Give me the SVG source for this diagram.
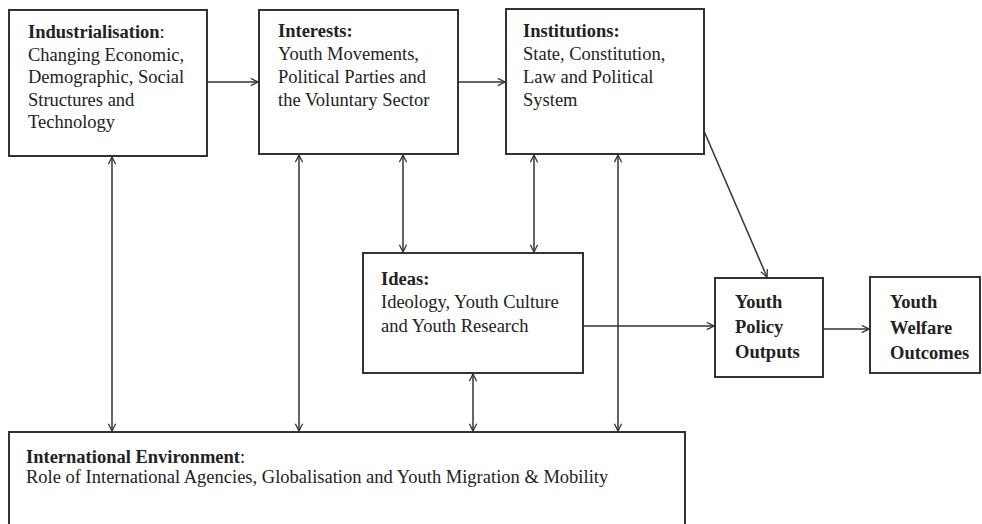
<svg xmlns="http://www.w3.org/2000/svg" width="982" height="524" viewBox="0 0 982 524">
<defs>
<marker id="ah" viewBox="0 0 10 10" refX="9" refY="5" markerWidth="9" markerHeight="9" markerUnits="userSpaceOnUse" orient="auto-start-reverse">
<path d="M1,1 L9,5 L1,9" fill="none" stroke="#333" stroke-width="1.4"/>
</marker>
<style>
.box{fill:#fff;stroke:#333;stroke-width:2}
.t{font-family:"Liberation Serif","Times New Roman",serif;font-size:18.5px;fill:#222}
.b{font-weight:bold}
.c{stroke:#333;stroke-width:1.5;fill:none;marker-end:url(#ah)}
.d{marker-start:url(#ah)}
</style>
</defs>
<rect width="982" height="524" fill="#fff"/>
<g id="industrialisation">
<rect class="box" x="9" y="10" width="198" height="146"/>
<text class="t" x="28" y="38"><tspan class="b">Industrialisation</tspan>:</text>
<text class="t" x="28" y="61">Changing Economic,</text>
<text class="t" x="28" y="83">Demographic, Social</text>
<text class="t" x="28" y="106">Structures and</text>
<text class="t" x="28" y="128">Technology</text>
</g>
<g id="interests">
<rect class="box" x="259" y="10" width="199" height="144"/>
<text class="t b" x="278" y="37">Interests:</text>
<text class="t" x="278" y="60">Youth Movements,</text>
<text class="t" x="278" y="83">Political Parties and</text>
<text class="t" x="278" y="106">the Voluntary Sector</text>
</g>
<g id="institutions">
<rect class="box" x="506" y="9" width="198" height="145"/>
<text class="t b" x="523" y="37">Institutions:</text>
<text class="t" x="523" y="60">State, Constitution,</text>
<text class="t" x="523" y="83">Law and Political</text>
<text class="t" x="523" y="106">System</text>
</g>
<g id="ideas">
<rect class="box" x="363" y="253" width="220" height="120"/>
<text class="t b" x="381" y="285">Ideas:</text>
<text class="t" x="381" y="308">Ideology, Youth Culture</text>
<text class="t" x="381" y="332">and Youth Research</text>
</g>
<g id="policy">
<rect class="box" x="715" y="278" width="108" height="99"/>
<text class="t b" x="735" y="308">Youth</text>
<text class="t b" x="735" y="333">Policy</text>
<text class="t b" x="735" y="358">Outputs</text>
</g>
<g id="welfare">
<rect class="box" x="870" y="277" width="110" height="96"/>
<text class="t b" x="890" y="308">Youth</text>
<text class="t b" x="890" y="334">Welfare</text>
<text class="t b" x="890" y="359">Outcomes</text>
</g>
<g id="international">
<rect class="box" x="9" y="432" width="676" height="110"/>
<text class="t" x="26" y="463"><tspan class="b">International Environment</tspan>:</text>
<text class="t" x="26" y="483">Role of International Agencies, Globalisation and Youth Migration &amp; Mobility</text>
</g>
<g id="connectors">
<line class="c" x1="207" y1="82" x2="258" y2="82"/>
<line class="c" x1="458" y1="82" x2="505" y2="82"/>
<line class="c" x1="583" y1="326" x2="714" y2="326"/>
<line class="c" x1="823" y1="329" x2="869" y2="329"/>
<line class="c" x1="704" y1="131" x2="767" y2="277"/>
<line class="c d" x1="112" y1="157" x2="112" y2="431"/>
<line class="c d" x1="299" y1="155" x2="299" y2="431"/>
<line class="c d" x1="403" y1="155" x2="403" y2="252"/>
<line class="c d" x1="534" y1="155" x2="534" y2="252"/>
<line class="c d" x1="618" y1="155" x2="618" y2="431"/>
<line class="c d" x1="473" y1="374" x2="473" y2="431"/>
</g>
</svg>
